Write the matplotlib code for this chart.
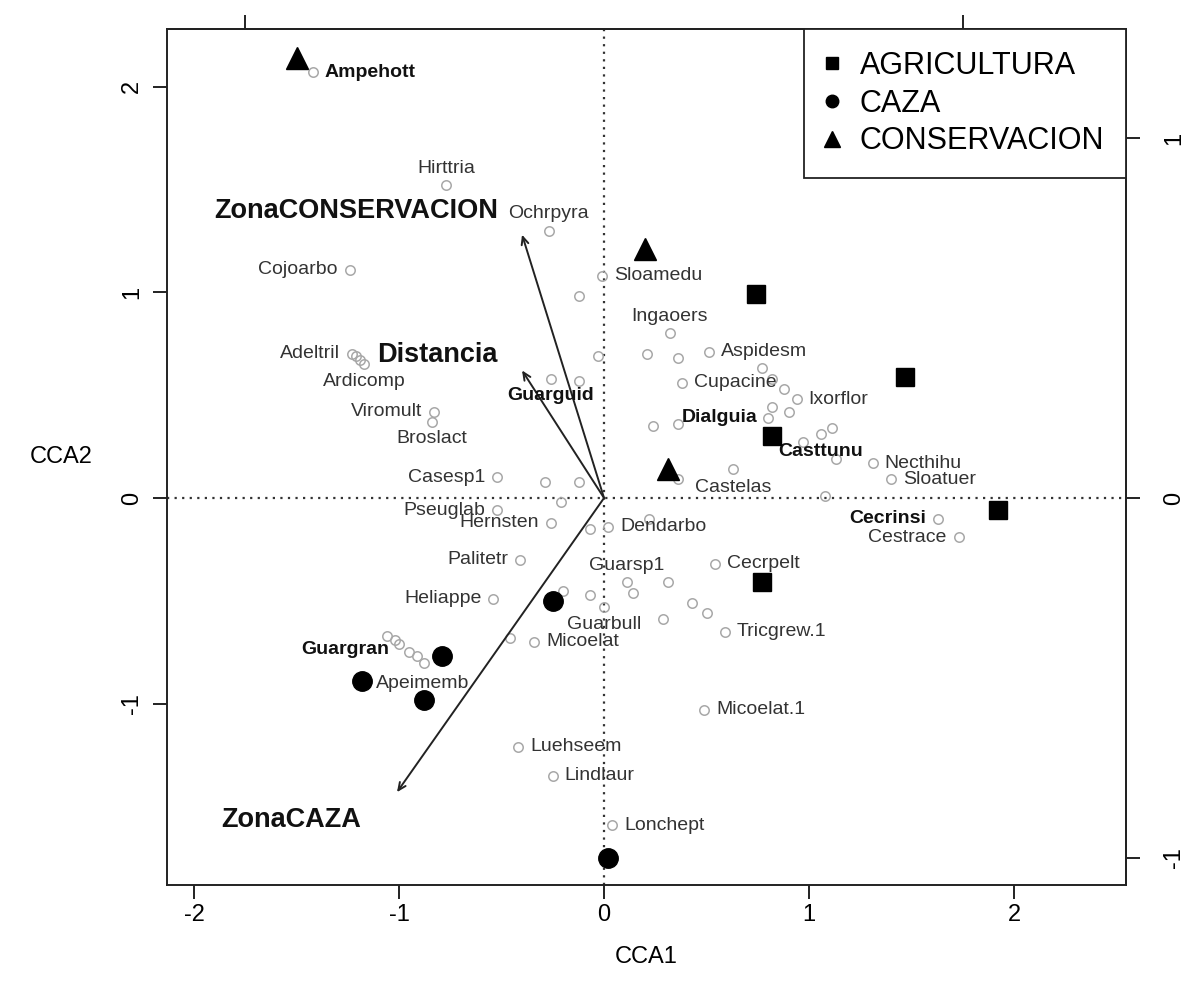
import numpy as np
import matplotlib.pyplot as plt
from matplotlib.lines import Line2D

plt.rcParams['font.family'] = ['Liberation Sans', 'DejaVu Sans']
plt.rcParams['axes.unicode_minus'] = False

# species scores (CCA1, CCA2) with names; '' = unlabelled species
species = ['Ampehott', 'Hirttria', 'Ochrpyra', 'Cojoarbo', 'Sloamedu', 'Ingaoers',
           'Aspidesm', 'Cupacine', 'Ixorflor', 'Dialguia', 'Casttunu', 'Necthihu',
           'Sloatuer', 'Castelas', 'Casesp1', 'Pseuglab', 'Hernsten', 'Dendarbo',
           'Cecrinsi', 'Cestrace', 'Palitetr', 'Guarsp1', 'Cecrpelt', 'Heliappe',
           'Guarbull', 'Micoelat', 'Tricgrew.1', 'Guargran', 'Apeimemb', 'Micoelat.1',
           'Luehseem', 'Lindlaur', 'Lonchept', 'Adeltril', 'Ardicomp', 'Viromult',
           'Broslact', 'Guarguid']
sp_x = [-1.42, -0.77, -0.27, -1.24, -0.01, 0.32,
        0.51, 0.38, 0.94, 0.36, 0.97, 1.31,
        1.40, 0.36, -0.52, -0.52, -0.26, 0.02,
        1.63, 1.73, -0.41, 0.11, 0.54, -0.54,
        0.00, -0.34, 0.59, -1.00, -1.17, 0.49,
        -0.42, -0.25, 0.04, -1.23, -1.17, -0.83,
        -0.84, -0.26]
sp_y = [2.07, 1.52, 1.30, 1.11, 1.08, 0.80,
        0.71, 0.56, 0.48, 0.36, 0.27, 0.17,
        0.09, 0.09, 0.10, -0.06, -0.12, -0.14,
        -0.10, -0.19, -0.30, -0.41, -0.32, -0.49,
        -0.53, -0.70, -0.65, -0.71, -0.90, -1.03,
        -1.21, -1.35, -1.59, 0.70, 0.65, 0.42,
        0.37, 0.58]
bold_species = ['Ampehott', 'Dialguia', 'Casttunu', 'Cecrinsi', 'Guargran', 'Guarguid']

other_x = [-0.12, -0.03, 0.21, 0.36, -0.12, 0.24, 0.77, 0.82, 0.88, 0.82, 0.90,
           0.80, 1.06, 1.11, 1.13, 0.63, 1.08, 0.22, -0.29, -0.12, -0.21, -0.07,
           -0.20, -0.07, 0.14, 0.31, 0.43, 0.50, 0.29, -0.46, -1.06, -1.02,
           -0.95, -0.91, -0.88, -1.21, -1.19]
other_y = [0.98, 0.69, 0.70, 0.68, 0.57, 0.35, 0.63, 0.58, 0.53, 0.44, 0.42,
           0.39, 0.31, 0.34, 0.19, 0.14, 0.01, -0.10, 0.08, 0.08, -0.02, -0.15,
           -0.45, -0.47, -0.46, -0.41, -0.51, -0.56, -0.59, -0.68, -0.67, -0.69,
           -0.75, -0.77, -0.80, 0.69, 0.67]

# site scores by management zone
agri_x = [0.74, 1.47, 0.82, 1.92, 0.77]
agri_y = [0.99, 0.59, 0.30, -0.06, -0.41]
caza_x = [-0.25, -0.79, -1.18, -0.88, 0.02]
caza_y = [-0.50, -0.77, -0.89, -0.98, -1.75]
cons_x = [-1.50, 0.20, 0.31]
cons_y = [2.14, 1.21, 0.14]

# environmental biplot arrows
env_names = ['ZonaCONSERVACION', 'Distancia', 'ZonaCAZA']
env_x = [-0.40, -0.40, -1.01]
env_y = [1.28, 0.62, -1.43]

# label placement: (ha, dx px, dy px)
R, L, A, B = ('left', 12, 0), ('right', -12, 0), ('center', 0, 17), ('center', 0, -17)
lab_pos = {
    'Ampehott': R, 'Hirttria': A, 'Ochrpyra': A, 'Cojoarbo': L, 'Sloamedu': R,
    'Ingaoers': A, 'Aspidesm': R, 'Cupacine': R, 'Ixorflor': R,
    'Dialguia': ('left', 4, 6), 'Casttunu': ('center', 18, -9), 'Necthihu': R,
    'Sloatuer': R, 'Castelas': ('left', 17, -8), 'Casesp1': L, 'Pseuglab': L,
    'Hernsten': L, 'Dendarbo': R, 'Cecrinsi': L, 'Cestrace': L, 'Palitetr': L,
    'Guarsp1': A, 'Cecrpelt': R, 'Heliappe': L, 'Guarbull': B, 'Micoelat': R,
    'Tricgrew.1': R, 'Guargran': ('right', -10, -5), 'Apeimemb': R,
    'Micoelat.1': R, 'Luehseem': R, 'Lindlaur': R, 'Lonchept': R,
    'Adeltril': L, 'Ardicomp': B, 'Viromult': L, 'Broslact': B, 'Guarguid': B,
}
env_lab = [(-24, 24), (-25, 15), (-36, -28)]

px = 0.72  # points per pixel at 100 dpi

fig = plt.figure(figsize=(11.85, 9.94), dpi=100)
ax = fig.add_axes([0.1409, 0.1097, 0.8093, 0.8612])
ax.set_xlim(-2.132, 2.546)
ax.set_ylim(-1.881, 2.280)

ax.axhline(0, color='#333333', lw=1.6, ls=(0, (1, 2.4)), zorder=1)
ax.axvline(0, color='#333333', lw=1.6, ls=(0, (1, 2.4)), zorder=1)

ax.plot(other_x, other_y, 'o', ms=6.8, mfc='none', mec='#a8a8a8', mew=1.1, zorder=2)
ax.plot(sp_x, sp_y, 'o', ms=6.8, mfc='none', mec='#a8a8a8', mew=1.1, zorder=2)

for name, x, y in zip(species, sp_x, sp_y):
    ha, dx, dy = lab_pos[name]
    bold = name in bold_species
    ax.annotate(name, (x, y), xytext=(dx * px, dy * px), textcoords='offset points',
                ha=ha, va='center', fontsize=14,
                fontweight='bold' if bold else 'normal',
                color='#111111' if bold else '#333333', zorder=4)

for name, x, y, (dx, dy) in zip(env_names, env_x, env_y, env_lab):
    ax.annotate('', xy=(x, y), xytext=(0, 0),
                arrowprops=dict(arrowstyle='->,head_length=0.55,head_width=0.25',
                                lw=1.4, color='#222222', shrinkA=0, shrinkB=0),
                zorder=3)
    ax.annotate(name, (x, y), xytext=(dx * px, dy * px), textcoords='offset points',
                ha='right', va='center', fontsize=19.5, fontweight='bold',
                color='#111111', zorder=4)

ax.plot(agri_x, agri_y, 's', ms=13, color='black', zorder=5)
ax.plot(caza_x, caza_y, 'o', ms=14, color='black', zorder=5)
ax.plot(cons_x, cons_y, '^', ms=16, color='black', zorder=5)

handles = [Line2D([], [], ls='none', marker='s', ms=9, color='black'),
           Line2D([], [], ls='none', marker='o', ms=9, color='black'),
           Line2D([], [], ls='none', marker='^', ms=11, color='black')]
leg = ax.legend(handles, ['AGRICULTURA', 'CAZA', 'CONSERVACION'], loc='upper right',
                borderaxespad=0, fancybox=False, framealpha=1, edgecolor='#222222',
                fontsize=22, handlelength=0.4, handletextpad=0.7, labelspacing=0.25,
                borderpad=0.72)
leg.get_frame().set_linewidth(1.3)

for s in ax.spines.values():
    s.set_linewidth(1.4)
    s.set_color('#222222')

ax.set_xticks([-2, -1, 0, 1, 2])
ax.set_yticks([-1, 0, 1, 2])
ax.tick_params(direction='out', length=10, width=1.4, labelsize=17, color='#222222')
ax.tick_params(axis='x', pad=4)
ax.tick_params(axis='y', pad=7)
for t in ax.get_yticklabels():
    t.set_rotation(90)
    t.set_va('center')

# secondary scale for biplot scores
f = 1.75
top = ax.secondary_xaxis('top', functions=(lambda v: v / f, lambda v: v * f))
top.set_xticks([-1, 1])
top.set_xticklabels(['', ''])
top.tick_params(direction='out', length=10, width=1.4, color='#222222')
right = ax.secondary_yaxis('right', functions=(lambda v: v / f, lambda v: v * f))
right.set_yticks([-1, 0, 1])
right.tick_params(direction='out', length=10, width=1.4, labelsize=17, pad=17, color='#222222')
for t in right.get_yticklabels():
    t.set_rotation(90)
    t.set_va('center')
for sec in (top, right):
    for s in sec.spines.values():
        s.set_linewidth(1.4)
        s.set_color('#222222')

ax.set_xlabel('CCA1', fontsize=17, labelpad=14)
ax.set_ylabel('CCA2', fontsize=17, rotation=0, va='center', ha='center')
ax.yaxis.set_label_coords(-0.110, 0.5)

fig.savefig('out.png', dpi=100)
